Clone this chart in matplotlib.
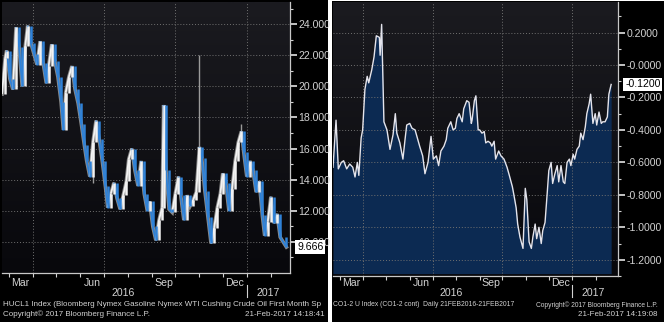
import numpy as np
import pandas as pd
import matplotlib
matplotlib.use("Agg")
import matplotlib.pyplot as plt
import matplotlib.transforms as mtransforms
import matplotlib.dates as mdates
from matplotlib.collections import LineCollection
from matplotlib.patches import Rectangle
from matplotlib.ticker import FormatStrFormatter

plt.rcParams["font.family"] = ["Liberation Sans", "DejaVu Sans"]

START = pd.Timestamp("2016-02-21")

# HUCL1 crack spread, day offsets from START and closing levels
gas_days = [0, 4, 6, 10, 14, 18, 22, 26, 30, 33, 37, 41, 45, 49, 53, 57, 60, 64,
            68, 72, 76, 79, 82, 86, 90, 94, 98, 102, 106, 109, 113, 117, 121, 125,
            129, 133, 136, 140, 144, 148, 152, 156, 160, 163, 167, 171, 175, 179,
            183, 187, 190, 194, 198, 202, 206, 208, 211, 215, 219, 223, 227, 230,
            234, 238, 242, 246, 250, 254, 257, 261, 265, 269, 273, 277, 281, 284,
            288, 292, 296, 300, 304, 308, 311, 315, 319, 323, 327, 331, 335, 338,
            342, 346, 350, 354, 358, 366]
gas_close = [19.5, 21.8, 22.3, 20.5, 19.8, 23.8, 22.5, 20.0, 22.6, 23.9, 22.8, 22.1,
             21.4, 22.9, 21.5, 20.2, 21.3, 22.7, 21.6, 20.6, 19.0, 17.2, 19.6, 20.6,
             21.3, 19.8, 18.9, 17.6, 16.2, 15.2, 14.2, 16.4, 17.8, 16.6, 15.2, 13.6,
             12.2, 13.1, 13.8, 12.8, 12.1, 13.0, 13.9, 15.3, 16.0, 14.6, 13.6, 15.2,
             13.1, 12.0, 12.6, 11.0, 10.1, 11.4, 12.2, 18.8, 14.6, 12.1, 11.9, 13.1,
             14.2, 13.0, 11.4, 13.0, 12.3, 12.7, 13.2, 16.1, 15.4, 13.3, 11.6, 9.9,
             10.9, 12.2, 13.1, 14.4, 13.8, 12.0, 13.4, 15.2, 16.4, 17.1, 15.8, 14.2,
             15.2, 14.6, 13.2, 13.9, 11.7, 10.4, 11.3, 12.9, 11.2, 11.8, 10.3, 9.666]
# intraday extremes that stick out past the closes
wick_days = [117, 254, 308]
wick_base = [16.4, 16.1, 17.1]
wick_vals = [13.8, 22.0, 17.6]

# CO1-2 spread
brent_days = [0, 4, 7, 11, 14, 18, 22, 26, 29, 32, 34, 37, 39, 42, 45, 47, 51, 54,
              57, 61, 62, 64, 67, 71, 75, 79, 82, 84, 88, 92, 95, 97, 101, 104, 108,
              111, 114, 118, 121, 125, 129, 132, 136, 139, 142, 146, 149, 151, 155,
              158, 161, 163, 166, 170, 172, 176, 179, 182, 183, 186, 188, 191, 193,
              196, 199, 201, 204, 207, 209, 212, 214, 218, 221, 225, 229, 232, 236,
              238, 241, 243, 246, 250, 253, 255, 258, 261, 263, 266, 268, 271, 274,
              276, 279, 282, 284, 287, 289, 292, 295, 297, 300, 303, 305, 308, 311,
              313, 316, 318, 321, 324, 326, 329, 332, 334, 337, 339, 342, 345, 347,
              350, 353, 355, 358, 361, 363, 366]
brent_spread = [-0.63, -0.34, -0.64, -0.60, -0.59, -0.64, -0.61, -0.63, -0.69, -0.60,
                -0.68, -0.45, -0.40, -0.15, -0.07, -0.11, -0.03, 0.05, 0.18, 0.17,
                0.06, 0.25, -0.35, -0.40, -0.52, -0.43, -0.30, -0.42, -0.48, -0.58,
                -0.45, -0.37, -0.36, -0.39, -0.40, -0.45, -0.50, -0.56, -0.67, -0.60,
                -0.44, -0.58, -0.56, -0.62, -0.53, -0.50, -0.46, -0.39, -0.35, -0.40,
                -0.39, -0.33, -0.30, -0.35, -0.27, -0.22, -0.23, -0.36, -0.34, -0.22,
                -0.19, -0.40, -0.40, -0.42, -0.41, -0.48, -0.47, -0.48, -0.50, -0.47,
                -0.58, -0.53, -0.56, -0.58, -0.63, -0.68, -0.75, -0.80, -0.88, -0.98,
                -1.06, -1.13, -0.76, -0.83, -1.09, -1.13, -1.06, -0.98, -1.07, -1.00,
                -1.10, -1.02, -0.97, -0.78, -0.65, -0.60, -0.73, -0.67, -0.62, -0.72,
                -0.62, -0.72, -0.73, -0.60, -0.58, -0.62, -0.55, -0.58, -0.52, -0.50,
                -0.42, -0.46, -0.38, -0.30, -0.24, -0.18, -0.36, -0.30, -0.37, -0.29,
                -0.36, -0.35, -0.35, -0.32, -0.18, -0.12]

month_names = ["Mar", "Jun", "Sep", "Dec"]
year_names = ["2016", "2017"]

TXT = "#d2d2d2"
W, H = 664, 322


def fx(px):
    return px / W


def fy(py):
    return 1 - py / H


def to_dates(days):
    return START + pd.to_timedelta(np.asarray(days), unit="D")


fig = plt.figure(figsize=(W / 100, H / 100), dpi=100, facecolor="white")
fig.patches.append(Rectangle((0, 0), fx(328), 1, transform=fig.transFigure,
                             facecolor="black", zorder=-10))
fig.patches.append(Rectangle((fx(332), 0), 1 - fx(332), fy(1), transform=fig.transFigure,
                             facecolor="black", zorder=-10))


def setup_panel(ax, span_days, ylim, major, minor, fmt):
    ax.set_xlim(START, START + pd.Timedelta(days=span_days))
    ax.set_ylim(*ylim)
    grad = np.linspace(0, 1, 256).reshape(-1, 1)
    ax.imshow(grad, extent=[0, 1, 0, 1], transform=ax.transAxes, aspect="auto",
              cmap=matplotlib.colors.LinearSegmentedColormap.from_list(
                  "bg", ["#08080c", "#1b1b20"]), origin="lower", zorder=0)
    ax.set_facecolor("black")
    ax.yaxis.tick_right()
    ax.set_yticks(major)
    ax.set_yticks(minor, minor=True)
    ax.yaxis.set_major_formatter(FormatStrFormatter(fmt))
    ax.tick_params(axis="y", which="major", length=5, width=1.3, colors=TXT,
                   labelsize=7.6, pad=1)
    ax.tick_params(axis="y", which="minor", length=2.5, width=0.8, colors=TXT)
    month_starts = pd.date_range("2016-03-01", "2017-02-01", freq="MS")
    ax.set_xticks(month_starts)
    ax.set_xticklabels([])
    ax.tick_params(axis="x", which="major", length=3, width=0.8, colors=TXT)
    for v in major:
        ax.axhline(v, color="#707070", lw=0.7, ls=(0, (1, 2)), zorder=3)
    for q in pd.to_datetime(["2016-04-01", "2016-07-01", "2016-10-01", "2017-01-01"]):
        ax.axvline(q, color="#707070", lw=0.7, ls=(0, (1, 2)), zorder=3)
    for side in ("top", "left"):
        ax.spines[side].set_visible(False)
    for side in ("right", "bottom"):
        ax.spines[side].set_color("#c8c8c8")
        ax.spines[side].set_linewidth(0.9)

    lab = mtransforms.blended_transform_factory(ax.transData, fig.transFigure)
    mids = pd.to_datetime(["2016-03-16", "2016-06-16", "2016-09-16", "2016-12-16"])
    for d, m in zip(mids, month_names):
        ax.text(d, fy(283), m, transform=lab, ha="center", va="center",
                color=TXT, fontsize=7.6)
    ax.text(pd.Timestamp("2016-07-26"), fy(293), year_names[0], transform=lab,
            ha="center", va="center", color=TXT, fontsize=7.6)
    ax.text(pd.Timestamp("2017-01-28"), fy(293), year_names[1], transform=lab,
            ha="center", va="center", color=TXT, fontsize=7.6)
    ax.plot([pd.Timestamp("2017-01-01")] * 2, [fy(285), fy(297)], transform=lab,
            color=TXT, lw=0.8, clip_on=False)


def value_tag(ax, value, text):
    tr = mtransforms.blended_transform_factory(ax.transAxes, ax.transData)
    ax.text(1.025, value, text, transform=tr, ha="left", va="center",
            fontsize=7.6, color="black", zorder=10,
            bbox=dict(boxstyle="square,pad=0.18", fc="white", ec="none"))


# left panel: gasoline crack spread, rising legs white, falling legs blue
ax1 = fig.add_axes([fx(2), fy(273), fx(288), 271 / H])
setup_panel(ax1, 370.6, (8.0, 25.42), np.arange(10, 25, 2), np.arange(9, 26, 2), "%.3f")
gx = mdates.date2num(to_dates(gas_days))
close = np.array(gas_close)
prev = np.r_[close[0], close[:-1]]
rising = close >= prev
leg_colors = np.where(rising, "#f2f2f2", "#2f82d8")

ax1.vlines(to_dates(wick_days), wick_base, wick_vals, color="#9a9a9a", lw=1.0, zorder=4)
ax1.plot(gx, close, color="#8a8a8a", lw=2.6, zorder=4, solid_joinstyle="miter")
segs = np.stack([np.column_stack([gx[:-1], close[:-1]]),
                 np.column_stack([gx[1:], close[1:]])], axis=1)
ax1.add_collection(LineCollection(segs, colors=leg_colors[1:], linewidths=1.3, zorder=5))
# candle bodies from the previous close to this close
ax1.vlines(gx, np.minimum(prev, close), np.maximum(prev, close), colors=leg_colors,
           lw=1.8, zorder=6)
value_tag(ax1, gas_close[-1], "9.666")

# right panel: Brent 1-2 spread, filled to the floor
ax2 = fig.add_axes([fx(333), fy(276), fx(285), 274 / H])
setup_panel(ax2, 375, (-1.285, 0.388), np.round(np.arange(-1.2, 0.21, 0.2), 1),
            np.round(np.arange(-1.3, 0.31, 0.2), 1), "%.4f")
bx = to_dates(brent_days)
ax2.fill_between(bx, brent_spread, -1.285, color="#0c2a52", lw=0, zorder=2)
ax2.plot(bx, brent_spread, color="#e4e4ec", lw=1.0, zorder=5)
value_tag(ax2, brent_spread[-1], "-0.1200")

# footers
fig.text(fx(3), fy(305), "HUCL1 Index (Bloomberg Nymex Gasoline Nymex WTI Cushing Crude Oil First Month Sp",
         color=TXT, fontsize=5.8, va="center", ha="left")
fig.text(fx(3), fy(314), "Copyright\u00a9 2017 Bloomberg Finance L.P.", color=TXT,
         fontsize=5.8, va="center", ha="left")
fig.text(fx(325), fy(314), "21-Feb-2017 14:18:41", color=TXT, fontsize=5.8,
         va="center", ha="right")
fig.text(fx(333), fy(305), "CO1-2 U Index (CO1-2 cont)  Daily 21FEB2016-21FEB2017",
         color=TXT, fontsize=4.9, va="center", ha="left")
fig.text(fx(658), fy(305), "Copyright\u00a9 2017 Bloomberg Finance L.P.", color=TXT,
         fontsize=4.8, va="center", ha="right")
fig.text(fx(658), fy(314), "21-Feb-2017 14:19:08", color=TXT, fontsize=5.8,
         va="center", ha="right")

fig.savefig("out.png", dpi=100, facecolor=fig.get_facecolor())
